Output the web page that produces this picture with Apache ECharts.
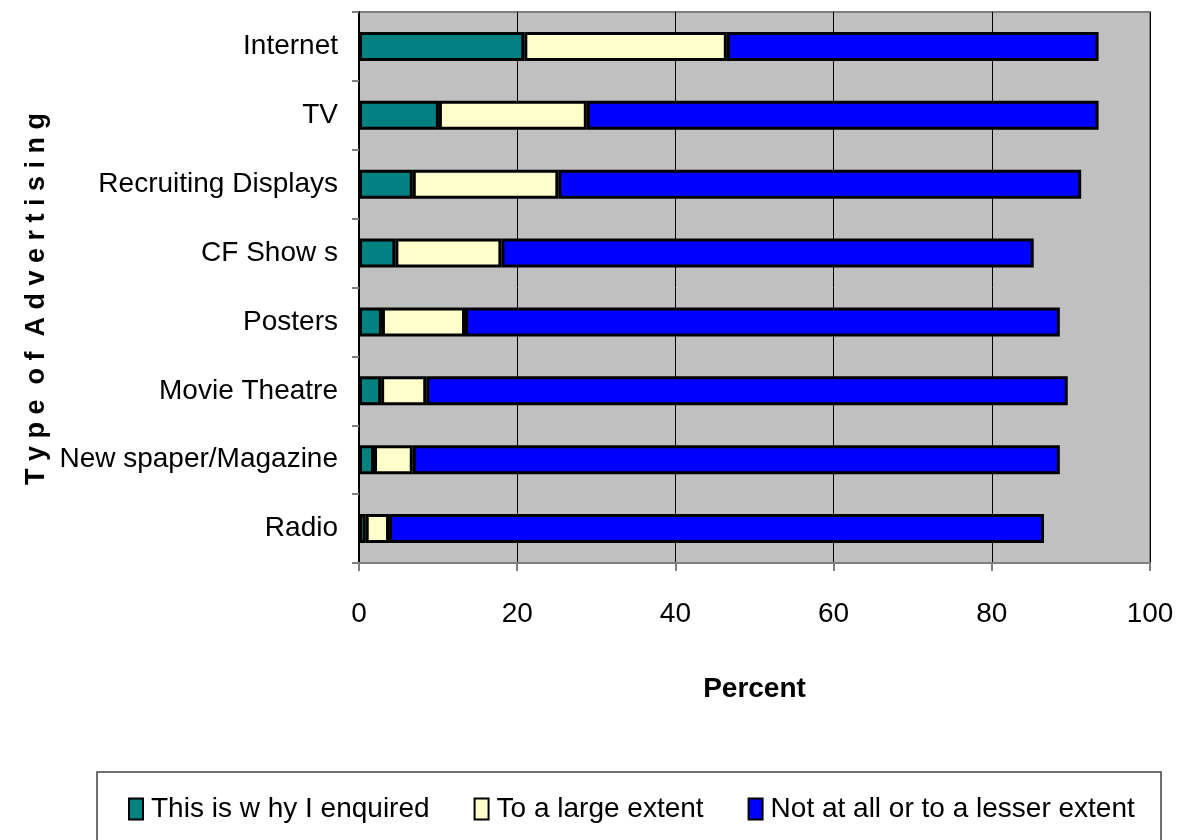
<!DOCTYPE html>
<html>
<head>
<meta charset="utf-8">
<script src="https://cdn.jsdelivr.net/npm/echarts@6/dist/echarts.min.js"></script>
<style>html,body{margin:0;padding:0;background:#fff;}#c{width:1177px;height:840px;}</style>
</head>
<body>
<div id="c"></div>
<script>
var categories = ['Radio', 'New spaper/Magazine', 'Movie Theatre', 'Posters', 'CF Show s', 'Recruiting Displays', 'TV', 'Internet'];
var seriesNames = ['This is w hy I enquired', 'To a large extent', 'Not at all or to a lesser extent'];
var enquired = [0.85, 1.9, 2.8, 2.9, 4.6, 6.8, 10.1, 20.9];
var largeExtent = [2.95, 4.9, 5.7, 10.5, 13.4, 18.4, 18.7, 25.6];
var lesserExtent = [82.8, 81.8, 81.1, 75.2, 67.3, 66.1, 64.7, 47.0];
var xTicks = [0, 20, 40, 60, 80, 100];
var xTitle = 'Percent';
var yTitle = 'T y p e  o f  A d v e r t i s i n g';

var FONT = '"Liberation Sans", Arial, sans-serif';
var colors = ['#008080', '#FFFFCC', '#0000FF'];
var chart = echarts.init(document.getElementById('c'));
function bar(name, data, color) {
  return {
    name: name, type: 'bar', stack: 'total', data: data, barWidth: '42%',
    itemStyle: { color: color, borderColor: '#000', borderWidth: 3 }
  };
}
chart.setOption({
  animation: false,
  backgroundColor: '#fff',
  grid: { left: 359, right: 27, top: 12, bottom: 277, containLabel: false, outerBoundsMode: 'none',
          show: true, backgroundColor: '#C0C0C0', borderColor: '#808080', borderWidth: 2 },
  xAxis: {
    type: 'value', min: xTicks[0], max: xTicks[xTicks.length - 1], interval: 20,
    axisLine: { show: true, lineStyle: { color: '#808080', width: 2 } },
    axisTick: { show: true, length: 8, lineStyle: { color: '#808080', width: 2 } },
    splitLine: { show: true, lineStyle: { color: '#000', width: 1 } },
    axisLabel: { fontFamily: FONT, fontSize: 28, color: '#000', margin: 37 },
    name: xTitle, nameLocation: 'middle', nameGap: 112,
    nameTextStyle: { fontFamily: FONT, fontWeight: 'bold', fontSize: 28, color: '#000' }
  },
  yAxis: {
    type: 'category', data: categories,
    axisLine: { show: true, lineStyle: { color: '#000', width: 2 } },
    axisTick: { show: true, length: 7, lineStyle: { color: '#808080', width: 2 } },
    axisLabel: { fontFamily: FONT, fontSize: 28, color: '#000', margin: 21 }
  },
  legend: {
    data: seriesNames, left: 123, top: 790, itemWidth: 14, itemHeight: 21, itemGap: 44, icon: 'rect',
    textStyle: { fontFamily: FONT, fontSize: 28, color: '#000', padding: [0, 0, 0, 3] },
    itemStyle: { borderColor: '#000', borderWidth: 2 }
  },
  graphic: [
    { type: 'rect', shape: { x: 97, y: 772, width: 1064, height: 80 }, style: { fill: 'none', stroke: '#404040', lineWidth: 1.5 }, z: -1 },
    { type: 'text', x: 37, y: 299, rotation: Math.PI / 2,
      style: { text: yTitle, font: 'bold 27px "Liberation Sans", Arial, sans-serif', fill: '#000', align: 'center', verticalAlign: 'middle' } }
  ],
  series: [bar(seriesNames[0], enquired, colors[0]), bar(seriesNames[1], largeExtent, colors[1]), bar(seriesNames[2], lesserExtent, colors[2])]
});
</script>
</body>
</html>
